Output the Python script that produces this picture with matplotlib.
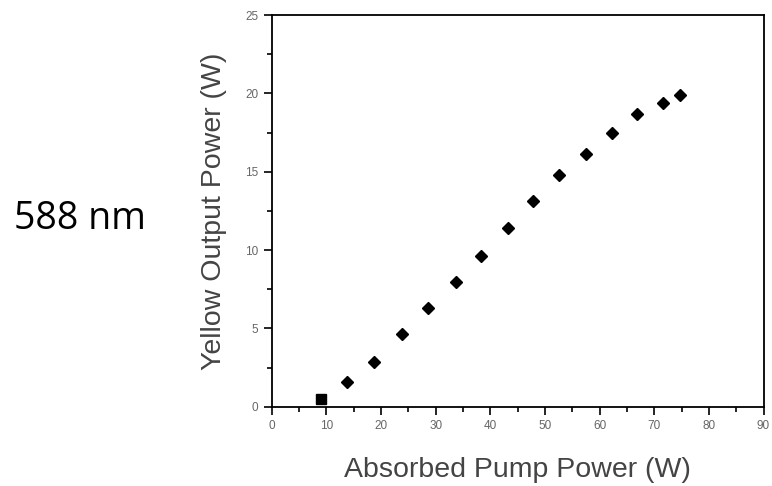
import numpy as np
import matplotlib.pyplot as plt
from matplotlib.ticker import MultipleLocator

# absorbed pump power (W) and yellow output power (W)
pump = [9.0, 13.8, 18.8, 23.9, 28.6, 33.7, 38.3, 43.3, 47.9, 52.6, 57.5, 62.3, 66.9, 71.6, 74.7]
yellow = [0.49, 1.56, 2.87, 4.64, 6.28, 7.96, 9.62, 11.39, 13.15, 14.8, 16.14, 17.5, 18.71, 19.37, 19.9]

plt.rcParams['font.family'] = ['Liberation Sans', 'DejaVu Sans']

fig = plt.figure(figsize=(7.72, 4.86), dpi=100)
ax = fig.add_axes([0.352, 0.163, 0.637, 0.806])

# first point shows up as a square in the original
ax.plot(pump[:1], yellow[:1], 's', color='black', markersize=6.5)
ax.plot(pump[1:], yellow[1:], 'D', color='black', markersize=6.5)

ax.set_xlim(0, 90)
ax.set_ylim(0, 25)
ax.xaxis.set_major_locator(MultipleLocator(10))
ax.xaxis.set_minor_locator(MultipleLocator(5))
ax.yaxis.set_major_locator(MultipleLocator(5))
ax.yaxis.set_minor_locator(MultipleLocator(2.5))
ax.tick_params(which='major', direction='out', length=6, width=1.2,
               labelsize=8.5, labelcolor='#666666', top=False, right=False)
ax.tick_params(which='minor', direction='out', length=3.5, width=1.2,
               top=False, right=False)
for s in ax.spines.values():
    s.set_linewidth(1.3)

ax.set_xlabel('Absorbed Pump Power (W)', fontsize=20.5, color='#444444', labelpad=18)
ax.set_ylabel('Yellow Output Power (W)', fontsize=20.5, color='#444444', labelpad=13)

fig.text(0.104, 0.549, '588 nm', fontsize=27, color='black',
         family=['Open Sans', 'DejaVu Sans'], ha='center', va='center')

fig.savefig('out.png', dpi=100)
